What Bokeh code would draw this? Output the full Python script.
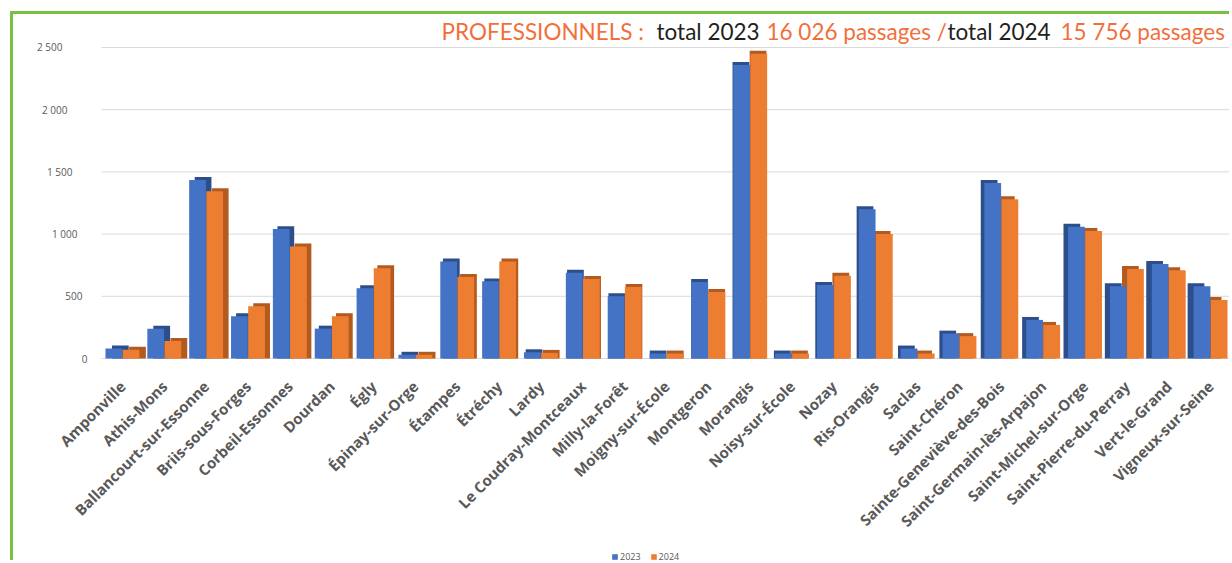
import numpy as np
from bokeh.plotting import figure
from bokeh.models import (Range1d, Label, Legend, LegendItem, ColumnDataSource)
from bokeh.core.properties import value
from bokeh.embed import file_html
from bokeh.resources import INLINE
import math

COMMUNES = ["Amponville", "Athis-Mons", "Ballancourt-sur-Essonne", "Briis-sous-Forges",
            "Corbeil-Essonnes", "Dourdan", "Égly", "Épinay-sur-Orge", "Étampes", "Étréchy",
            "Lardy", "Le Coudray-Montceaux", "Milly-la-Forêt", "Moigny-sur-École", "Montgeron",
            "Morangis", "Noisy-sur-École", "Nozay", "Ris-Orangis", "Saclas", "Saint-Chéron",
            "Sainte-Geneviève-des-Bois", "Saint-Germain-lès-Arpajon", "Saint-Michel-sur-Orge",
            "Saint-Pierre-du-Perray", "Vert-le-Grand", "Vigneux-sur-Seine"]
V2023 = [80, 240, 1435, 340, 1040, 240, 565, 30, 780, 620, 50, 690, 500, 40, 615,
         2360, 40, 590, 1200, 80, 200, 1410, 310, 1060, 580, 760, 580]
V2024 = [70, 140, 1345, 420, 900, 340, 725, 30, 655, 780, 45, 640, 575, 40, 535,
         2450, 40, 665, 1000, 40, 180, 1280, 270, 1025, 720, 710, 470]
SERIES = ["2023", "2024"]
Y_TICKS = [0, 500, 1000, 1500, 2000, 2500]
Y_TICK_LABELS = ["0", "500", "1 000", "1 500", "2 000", "2 500"]
TITLE_PARTS = [("PROFESSIONNELS :", "orange"), ("total 2023", "black"),
               ("16 026 passages /", "orange"), ("total 2024", "black"),
               ("15 756 passages", "orange")]

BLUE, BLUE_D = "#4472c4", "#2c4f8c"
ORANGE, ORANGE_D = "#ed7d31", "#b35a1f"
TXT_OR, TXT_BK = "#f26f3c", "#231f20"
GREEN = "#7ac143"
GREY = "#595959"
GRID = "#d9d9d9"

n = len(COMMUNES)
idx = np.arange(n)
W = 0.40
OFF = 0.205
DY = 24.0
dx = 0.0115 * (13.5 - idx)   # perspective side offset (style)

# page geometry: figure content starts at x=13, y=14 (10/11 margin + 3px border)
FX, FY = 13, 14
FW, FH = 1232 - FX, 563 - FY
PLOT_L, PLOT_R = 101, 1231        # page x of the category area
FRAME_T, FRAME_B = 16, 563
ZERO_Y = 358                      # page y of value 0
PX_PER_CAT = (PLOT_R - PLOT_L) / n
X_MIN = -0.5 - (PLOT_L - FX) / PX_PER_CAT
X_MAX = n - 0.5 + (FX + FW - PLOT_R) / PX_PER_CAT
UNITS_PER_PX = 2749 / (ZERO_Y - FRAME_T)
Y_MIN = -(FRAME_B - ZERO_Y) * UNITS_PER_PX

p = figure(width=FW, height=FH, output_backend="svg", toolbar_location=None,
           x_range=Range1d(X_MIN, X_MAX), y_range=Range1d(Y_MIN, 2749),
           min_border_left=0, min_border_right=0,
           min_border_top=FRAME_T - FY, min_border_bottom=0,
           styles={"margin-left": "10px", "margin-top": "11px",
                   "border-left": f"3px solid {GREEN}", "border-top": f"3px solid {GREEN}"})
p.outline_line_color = None
p.background_fill_color = "white"
p.border_fill_color = "white"
p.xaxis.visible = False
p.yaxis.visible = False
p.xgrid.grid_line_color = None
p.ygrid.grid_line_color = None

# gridlines and value labels (labels staggered like the perspective original)
yt = np.array(Y_TICKS, dtype=float)
p.segment(x0=np.full(len(yt), -0.5), x1=np.full(len(yt), n - 0.5), y0=yt, y1=yt,
          line_color=GRID, line_width=1)
ylab = ColumnDataSource(dict(x=np.full(len(yt), -0.5), y=yt, text=Y_TICK_LABELS,
                             xo=-(14 + 0.01 * yt)))
p.text(x="x", y="y", text="text", source=ylab, x_offset="xo", text_align="right",
       text_baseline="middle", text_font=value("Open Sans"), text_font_size="10px",
       text_color=GREY)

v23 = np.array(V2023, dtype=float)
v24 = np.array(V2024, dtype=float)

def draw(mask):
    s_b = ColumnDataSource(dict(x=idx[mask] - OFF, xs=idx[mask] - OFF + dx[mask],
                                top=v23[mask], tops=v23[mask] + DY))
    s_o = ColumnDataSource(dict(x=idx[mask] + OFF, xs=idx[mask] + OFF + dx[mask],
                                top=v24[mask], tops=v24[mask] + DY))
    return s_b, s_o

left = idx <= 14
right = idx > 14
bl, ol = draw(left)
br, orr = draw(right)

# left half: blue behind orange
p.vbar(x="xs", top="tops", width=W, source=bl, color=BLUE_D, line_width=0)
rb = p.vbar(x="x", top="top", width=W, source=bl, color=BLUE, line_width=0)
p.vbar(x="xs", top="tops", width=W, source=ol, color=ORANGE_D, line_width=0)
ro = p.vbar(x="x", top="top", width=W, source=ol, color=ORANGE, line_width=0)
# right half: orange behind blue
p.vbar(x="xs", top="tops", width=W, source=orr, color=ORANGE_D, line_width=0)
p.vbar(x="x", top="top", width=W, source=orr, color=ORANGE, line_width=0)
p.vbar(x="xs", top="tops", width=W, source=br, color=BLUE_D, line_width=0)
p.vbar(x="x", top="top", width=W, source=br, color=BLUE, line_width=0)

# category labels drawn as rotated text below the baseline
lab_src = ColumnDataSource(dict(x=idx, y=np.zeros(n), text=COMMUNES))
p.text(x="x", y="y", text="text", source=lab_src, angle=math.pi / 4,
       text_align="right", text_baseline="middle", x_offset=0, y_offset=25,
       text_font=value("Open Sans"), text_font_style="bold",
       text_font_size="15px", text_color=GREY)

# title pieces (page x positions converted to frame-relative screen units)
title_x = [441, 656, 766, 947, 1060]
for (txt, col), tx in zip(TITLE_PARTS, title_x):
    p.add_layout(Label(x=tx - FX, y=FRAME_B - 31, x_units="screen", y_units="screen",
                       text=txt, text_font="Lato", text_font_size="22.5px",
                       text_baseline="middle",
                       text_color=TXT_OR if col == "orange" else TXT_BK))

legend = Legend(items=[LegendItem(label=SERIES[0], renderers=[rb]),
                       LegendItem(label=SERIES[1], renderers=[ro])],
                location=(611 - FX, 0), orientation="horizontal",
                border_line_color=None, background_fill_alpha=0,
                glyph_width=7, glyph_height=7, label_text_font_size="9px",
                label_text_color=GREY, label_text_font="Open Sans",
                spacing=9, padding=1, margin=0, label_standoff=2, label_height=10)
p.add_layout(legend)

open("out.html", "w").write(file_html(p, INLINE))
